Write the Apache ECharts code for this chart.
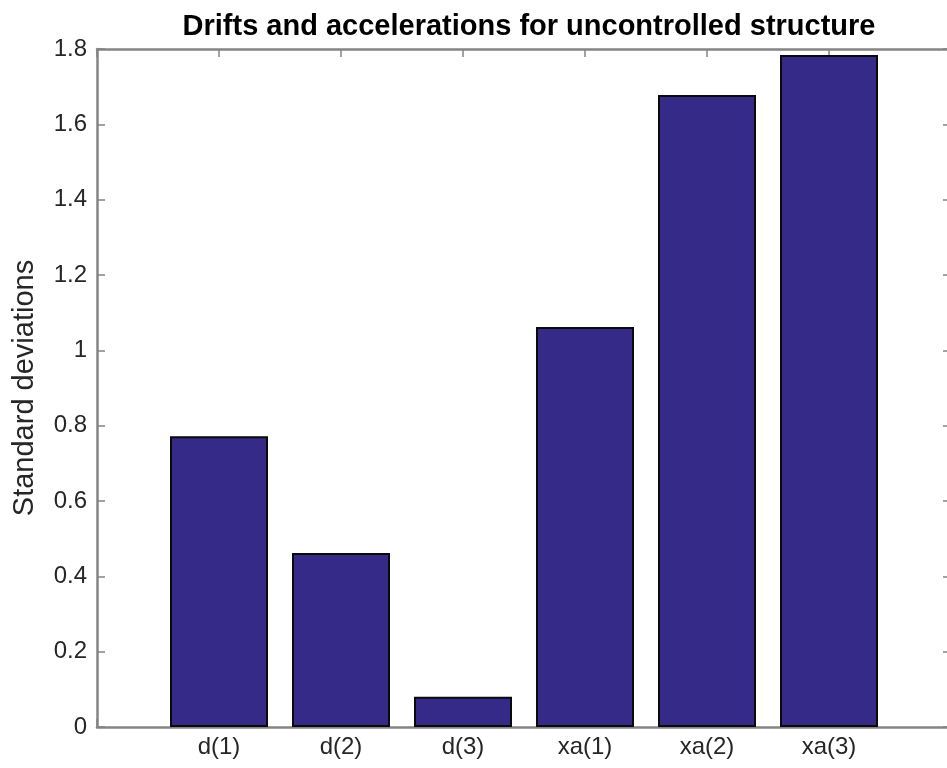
<!DOCTYPE html>
<html lang="en">
<head>
    <meta charset="UTF-8">
    <title>Drifts and accelerations</title>
    <script src="https://cdn.jsdelivr.net/npm/echarts@6/dist/echarts.min.js"></script>
    <style>
        html, body { margin: 0; padding: 0; background: #fff; }
        #chart { width: 947px; height: 768px; }
    </style>
</head>
<body>
    <div id="chart"></div>
    <script>
        const categories = ['d(1)', 'd(2)', 'd(3)', 'xa(1)', 'xa(2)', 'xa(3)'];
        const stdValues = [0.772, 0.462, 0.08, 1.062, 1.678, 1.784];
        const yTicks = { min: 0, max: 1.8, step: 0.2 };

        const axisGray = '#848484';
        const textColor = '#262626';
        const font = 'Liberation Sans, Arial, Helvetica, sans-serif';

        // bars sit at x = 1..n, the axis runs 0..n+1 like MATLAB's bar()
        const barData = stdValues.map((v, i) => [i + 1, v]);

        const tick = { show: true, inside: true, length: 8, lineStyle: { color: axisGray, width: 1.5 } };
        const line = { show: true, onZero: false, lineStyle: { color: axisGray, width: 2.5 } };

        const chart = echarts.init(document.getElementById('chart'));
        chart.setOption({
            animation: false,
            title: {
                text: 'Drifts and accelerations for uncontrolled structure',
                left: 524, top: 7, textAlign: 'center',
                textStyle: { fontFamily: font, fontSize: 29, fontWeight: 'bold', color: '#000' }
            },
            grid: { left: 97, top: 49, width: 854, height: 678, outerBoundsMode: 'none', containLabel: false },
            xAxis: [{
                type: 'value', position: 'bottom', min: 0, max: categories.length + 1, interval: 1,
                axisLine: line, axisTick: tick,
                splitLine: { show: false },
                axisLabel: {
                    margin: 8, fontFamily: font, fontSize: 24, color: textColor,
                    formatter: v => categories[v - 1] || ''
                }
            }, {
                type: 'value', position: 'top', min: 0, max: categories.length + 1, interval: 1,
                axisLine: line, axisTick: tick,
                splitLine: { show: false },
                axisLabel: { show: false }
            }],
            yAxis: [{
                type: 'value', position: 'left', min: yTicks.min, max: yTicks.max, interval: yTicks.step,
                name: 'Standard deviations', nameLocation: 'middle', nameGap: 58,
                nameTextStyle: { fontFamily: font, fontSize: 29, color: textColor },
                axisLine: line, axisTick: tick,
                splitLine: { show: false },
                axisLabel: { margin: 10, fontFamily: font, fontSize: 24, color: textColor }
            }, {
                type: 'value', position: 'right', min: yTicks.min, max: yTicks.max, interval: yTicks.step,
                axisLine: line, axisTick: tick,
                splitLine: { show: false },
                axisLabel: { show: false }
            }],
            series: [{
                type: 'bar',
                xAxisIndex: 0, yAxisIndex: 0,
                data: barData,
                barWidth: 98,
                itemStyle: { color: '#352A87', borderColor: '#0a0a0a', borderWidth: 2 }
            }, {
                type: 'scatter', xAxisIndex: 1, yAxisIndex: 1, data: [], silent: true
            }]
        });
    </script>
</body>
</html>
